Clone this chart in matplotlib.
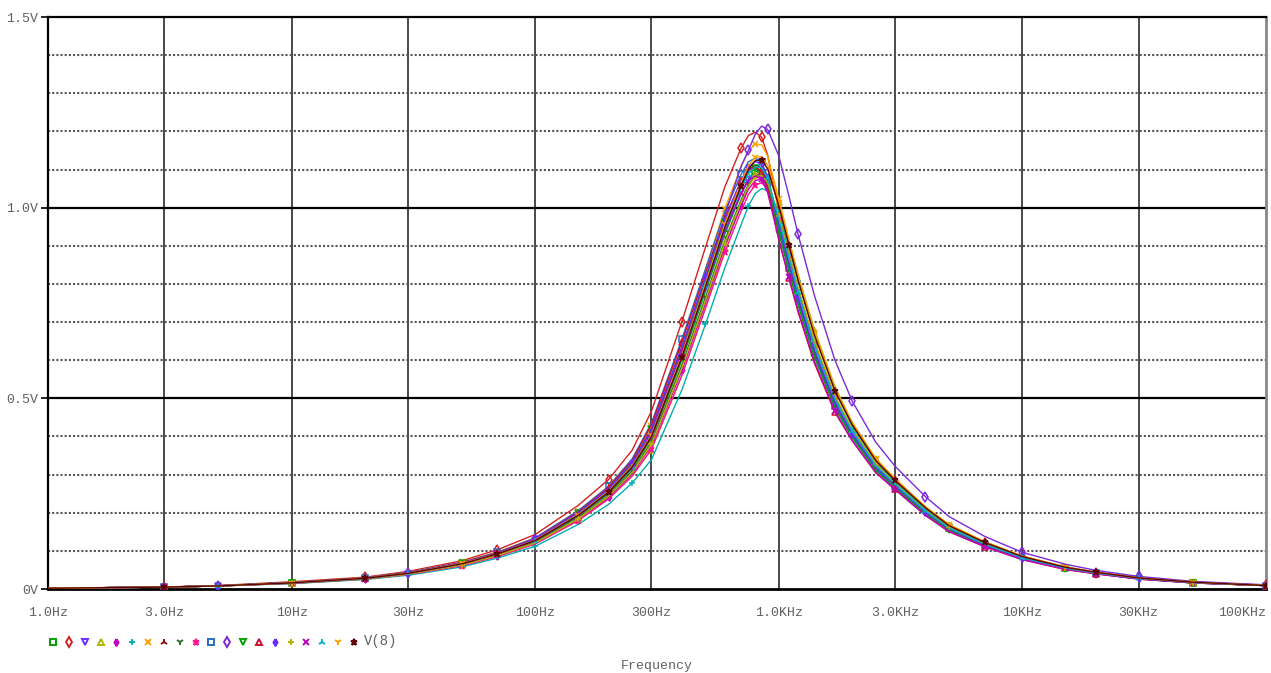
import matplotlib
matplotlib.use('Agg')
import matplotlib.pyplot as plt
from matplotlib.lines import Line2D
from matplotlib.path import Path

# AC sweep, 20 Monte Carlo runs of V(8)
freq = [1.0, 3, 5, 10, 20, 30, 50, 70, 100, 150, 200, 250, 300, 400, 500, 600, 700, 750,
        800, 850, 900, 1000, 1100, 1200, 1400, 1700, 2000, 2500, 3000, 4000, 5000, 7000,
        10000, 15000, 20000, 30000, 50000, 100000]

run01 = [0.002, 0.005, 0.008, 0.016, 0.027, 0.040, 0.065, 0.090, 0.125, 0.190, 0.250, 0.315, 0.395,
         0.600, 0.780, 0.930, 1.035, 1.075, 1.095, 1.095, 1.070, 0.970, 0.870, 0.780, 0.640, 0.500,
         0.415, 0.325, 0.275, 0.205, 0.160, 0.118, 0.082, 0.055, 0.042, 0.028, 0.017, 0.009]
run02 = [0.002, 0.005, 0.009, 0.019, 0.031, 0.046, 0.074, 0.103, 0.143, 0.219, 0.287, 0.364, 0.466,
         0.701, 0.896, 1.054, 1.156, 1.189, 1.198, 1.185, 1.138, 0.991, 0.882, 0.786, 0.641, 0.501,
         0.420, 0.330, 0.282, 0.209, 0.163, 0.120, 0.084, 0.056, 0.043, 0.028, 0.017, 0.010]
run03 = [0.002, 0.005, 0.008, 0.016, 0.027, 0.040, 0.066, 0.091, 0.126, 0.192, 0.253, 0.319, 0.403,
         0.610, 0.789, 0.936, 1.037, 1.073, 1.089, 1.085, 1.054, 0.943, 0.844, 0.755, 0.618, 0.483,
         0.403, 0.315, 0.268, 0.199, 0.155, 0.115, 0.080, 0.053, 0.041, 0.027, 0.016, 0.009]
run04 = [0.002, 0.005, 0.008, 0.015, 0.026, 0.038, 0.062, 0.086, 0.119, 0.180, 0.237, 0.297, 0.365,
         0.560, 0.740, 0.893, 1.007, 1.055, 1.085, 1.095, 1.085, 1.015, 0.916, 0.825, 0.680, 0.531,
         0.437, 0.342, 0.287, 0.215, 0.168, 0.124, 0.086, 0.058, 0.044, 0.030, 0.018, 0.009]
run05 = [0.002, 0.005, 0.008, 0.015, 0.026, 0.038, 0.063, 0.087, 0.120, 0.183, 0.240, 0.302, 0.376,
         0.573, 0.750, 0.899, 1.005, 1.048, 1.071, 1.075, 1.057, 0.970, 0.872, 0.784, 0.644, 0.503,
         0.416, 0.326, 0.275, 0.205, 0.160, 0.118, 0.082, 0.055, 0.042, 0.028, 0.017, 0.009]
run06 = [0.002, 0.005, 0.008, 0.014, 0.025, 0.036, 0.058, 0.081, 0.112, 0.169, 0.222, 0.278, 0.339,
         0.522, 0.694, 0.842, 0.955, 1.004, 1.037, 1.050, 1.046, 0.991, 0.896, 0.808, 0.667, 0.521,
         0.428, 0.335, 0.280, 0.210, 0.164, 0.121, 0.084, 0.057, 0.043, 0.029, 0.018, 0.009]
run07 = [0.002, 0.005, 0.009, 0.017, 0.029, 0.043, 0.070, 0.097, 0.134, 0.204, 0.269, 0.339, 0.427,
         0.647, 0.838, 0.997, 1.107, 1.148, 1.167, 1.165, 1.135, 1.023, 0.916, 0.820, 0.672, 0.525,
         0.437, 0.342, 0.290, 0.216, 0.169, 0.124, 0.086, 0.058, 0.044, 0.030, 0.018, 0.010]
run08 = [0.002, 0.005, 0.008, 0.017, 0.028, 0.042, 0.067, 0.093, 0.130, 0.198, 0.260, 0.329, 0.417,
         0.630, 0.811, 0.961, 1.061, 1.097, 1.111, 1.105, 1.071, 0.951, 0.850, 0.760, 0.622, 0.486,
         0.405, 0.318, 0.270, 0.201, 0.157, 0.115, 0.080, 0.054, 0.041, 0.027, 0.017, 0.009]
run09 = [0.002, 0.005, 0.008, 0.016, 0.027, 0.039, 0.064, 0.088, 0.123, 0.186, 0.245, 0.309, 0.386,
         0.587, 0.765, 0.914, 1.020, 1.061, 1.083, 1.085, 1.063, 0.970, 0.871, 0.782, 0.642, 0.502,
         0.416, 0.325, 0.275, 0.205, 0.160, 0.118, 0.082, 0.055, 0.042, 0.028, 0.017, 0.009]
run10 = [0.002, 0.005, 0.008, 0.015, 0.026, 0.038, 0.061, 0.085, 0.118, 0.179, 0.236, 0.296, 0.367,
         0.560, 0.736, 0.883, 0.991, 1.034, 1.060, 1.065, 1.050, 0.970, 0.873, 0.785, 0.646, 0.505,
         0.417, 0.326, 0.275, 0.205, 0.160, 0.118, 0.082, 0.055, 0.042, 0.028, 0.017, 0.009]
run11 = [0.002, 0.005, 0.008, 0.017, 0.029, 0.043, 0.070, 0.096, 0.134, 0.205, 0.269, 0.341, 0.435,
         0.655, 0.839, 0.989, 1.087, 1.120, 1.130, 1.120, 1.079, 0.946, 0.843, 0.752, 0.614, 0.480,
         0.402, 0.315, 0.269, 0.200, 0.156, 0.115, 0.080, 0.053, 0.041, 0.027, 0.016, 0.009]
run12 = [0.002, 0.005, 0.009, 0.016, 0.028, 0.042, 0.068, 0.094, 0.130, 0.197, 0.259, 0.325, 0.397,
         0.611, 0.810, 0.980, 1.108, 1.150, 1.192, 1.214, 1.205, 1.136, 1.031, 0.930, 0.770, 0.600,
         0.493, 0.385, 0.322, 0.242, 0.190, 0.138, 0.096, 0.065, 0.049, 0.033, 0.020, 0.011]
run13 = [0.002, 0.005, 0.008, 0.017, 0.028, 0.042, 0.067, 0.093, 0.130, 0.198, 0.260, 0.329, 0.419,
         0.632, 0.812, 0.960, 1.057, 1.091, 1.103, 1.095, 1.058, 0.934, 0.833, 0.744, 0.608, 0.475,
         0.397, 0.311, 0.265, 0.197, 0.154, 0.113, 0.079, 0.053, 0.040, 0.027, 0.016, 0.009]
run14 = [0.002, 0.005, 0.008, 0.017, 0.028, 0.042, 0.069, 0.095, 0.132, 0.202, 0.266, 0.337, 0.431,
         0.648, 0.828, 0.974, 1.069, 1.099, 1.107, 1.095, 1.052, 0.916, 0.815, 0.726, 0.592, 0.463,
         0.389, 0.305, 0.261, 0.193, 0.150, 0.111, 0.077, 0.051, 0.040, 0.026, 0.016, 0.009]
run15 = [0.002, 0.005, 0.008, 0.017, 0.028, 0.042, 0.068, 0.094, 0.131, 0.200, 0.262, 0.332, 0.420,
         0.635, 0.818, 0.969, 1.071, 1.107, 1.121, 1.115, 1.080, 0.960, 0.858, 0.767, 0.627, 0.490,
         0.409, 0.320, 0.273, 0.203, 0.158, 0.116, 0.081, 0.054, 0.042, 0.028, 0.017, 0.009]
run16 = [0.002, 0.005, 0.008, 0.016, 0.026, 0.039, 0.063, 0.088, 0.121, 0.184, 0.243, 0.305, 0.380,
         0.579, 0.757, 0.907, 1.015, 1.057, 1.081, 1.085, 1.066, 0.979, 0.880, 0.791, 0.650, 0.508,
         0.420, 0.329, 0.277, 0.207, 0.162, 0.119, 0.083, 0.056, 0.042, 0.028, 0.017, 0.009]
run17 = [0.002, 0.005, 0.008, 0.016, 0.027, 0.041, 0.066, 0.092, 0.127, 0.194, 0.256, 0.323, 0.411,
         0.621, 0.797, 0.942, 1.038, 1.071, 1.083, 1.075, 1.039, 0.917, 0.818, 0.731, 0.597, 0.467,
         0.390, 0.306, 0.261, 0.193, 0.151, 0.111, 0.077, 0.052, 0.040, 0.026, 0.016, 0.009]
run18 = [0.002, 0.005, 0.008, 0.016, 0.027, 0.041, 0.066, 0.092, 0.127, 0.194, 0.255, 0.321, 0.405,
         0.613, 0.795, 0.946, 1.050, 1.089, 1.107, 1.105, 1.077, 0.970, 0.869, 0.778, 0.638, 0.498,
         0.414, 0.324, 0.275, 0.205, 0.160, 0.118, 0.082, 0.055, 0.042, 0.028, 0.017, 0.009]
run19 = [0.002, 0.005, 0.008, 0.016, 0.028, 0.041, 0.067, 0.092, 0.128, 0.195, 0.256, 0.323, 0.403,
         0.613, 0.800, 0.956, 1.066, 1.110, 1.132, 1.134, 1.112, 1.014, 0.911, 0.817, 0.671, 0.524,
         0.435, 0.340, 0.287, 0.214, 0.167, 0.123, 0.086, 0.058, 0.044, 0.029, 0.018, 0.009]
run20 = [0.002, 0.005, 0.008, 0.016, 0.028, 0.041, 0.066, 0.092, 0.127, 0.193, 0.254, 0.320, 0.400,
         0.608, 0.793, 0.948, 1.057, 1.100, 1.123, 1.125, 1.102, 1.005, 0.903, 0.810, 0.666, 0.520,
         0.431, 0.337, 0.285, 0.213, 0.166, 0.122, 0.085, 0.057, 0.044, 0.029, 0.018, 0.009]

runs = [run01, run02, run03, run04, run05, run06, run07, run08, run09, run10,
        run11, run12, run13, run14, run15, run16, run17, run18, run19, run20]
colors = ['#00a000', '#d42020', '#6a2cff', '#b4b400', '#c000c0', '#00b0b0', '#ffa000',
          '#8b1010', '#2f6b2f', '#ff1493', '#2a6cc0', '#7a2ad8', '#00a000', '#c8102e',
          '#6a2cff', '#b4b400', '#c000c0', '#00b4c8', '#ffa000', '#600000']

# diamond with a cross inside, the PSpice symbol for traces 5 and 15
dia_plus = Path([(0, 1), (0.6, 0), (0, -1), (-0.6, 0), (0, 1), (0, 1), (0, -1), (-0.6, 0), (0.6, 0)],
                [Path.MOVETO, Path.LINETO, Path.LINETO, Path.LINETO, Path.LINETO,
                 Path.MOVETO, Path.LINETO, Path.MOVETO, Path.LINETO])
markers = ['s', 'd', 'v', '^', dia_plus, '+', 'x', '2', '1', '*',
           's', 'd', 'v', '^', dia_plus, '+', 'x', '2', '1', '*']

xticks = [1, 3, 10, 30, 100, 300, 1000, 3000, 10000, 30000, 100000]
xlabels = ['1.0Hz', '3.0Hz', '10Hz', '30Hz', '100Hz', '300Hz', '1.0KHz', '3.0KHz',
           '10KHz', '30KHz', '100KHz']
yticks = [0, 0.5, 1.0, 1.5]
ylabels = ['0V', '0.5V', '1.0V', '1.5V']

mono = 'Liberation Mono'
txt_color = '#606060'
W, H = 1271, 673


def is_hollow(m):
    return not isinstance(m, str) or m in ('s', 'd', 'v', '^')


fig = plt.figure(figsize=(W / 100, H / 100), dpi=100)
fig.patch.set_facecolor('white')
ax = fig.add_axes([48 / W, 1 - 589 / H, 1218 / W, 572 / H])

# grid
for f in xticks[1:-1]:
    ax.axvline(f, color='#3c3c3c', lw=1.3, zorder=1)
for k in range(1, 15):
    v = k / 10
    if k % 5 == 0:
        ax.axhline(v, color='black', lw=1.6, zorder=1)
    else:
        ax.axhline(v, color='#555555', lw=1.5, ls=(0, (1, 1)), zorder=1)

n = len(freq)
for i, (vals, c, m) in enumerate(zip(runs, colors, markers)):
    every = [j for j in range(1, n) if j % 3 == i % 3]
    ax.plot(freq, vals, color=c, lw=1.0, zorder=3, marker=m, markersize=5,
            markeredgewidth=1.1, markeredgecolor=c,
            markerfacecolor='none' if is_hollow(m) else c, markevery=every)

ax.set_xscale('log')
ax.set_xlim(1, 100000)
ax.set_ylim(0, 1.5)
ax.set_xticks(xticks)
ax.set_xticklabels(xlabels)
ax.minorticks_off()
ax.set_yticks(yticks)
ax.set_yticklabels(ylabels)
ax.tick_params(axis='x', length=0, pad=13, labelsize=9.5, labelcolor=txt_color)
ax.tick_params(axis='y', length=5, width=1.2, pad=2, labelsize=9.5, labelcolor=txt_color)
for lab in ax.get_xticklabels() + ax.get_yticklabels():
    lab.set_family(mono)
ax.get_xticklabels()[-1].set_horizontalalignment('right')

for side in ['top', 'left']:
    ax.spines[side].set_color('black')
    ax.spines[side].set_linewidth(1.6)
ax.spines['bottom'].set_color('black')
ax.spines['bottom'].set_linewidth(2.0)
ax.spines['right'].set_color('#888888')
ax.spines['right'].set_linewidth(2.0)

# PSpice style trace legend below the axis
ly = 1 - 641.5 / H
for i, (c, m) in enumerate(zip(colors, markers)):
    lx = (53 + 15.84 * i) / W
    fig.add_artist(Line2D([lx], [ly], transform=fig.transFigure, marker=m, markersize=5,
                          markeredgewidth=1.4, markeredgecolor=c, linestyle='none',
                          markerfacecolor='none' if is_hollow(m) else c))
fig.text(364 / W, ly, 'V(8)', family=mono, fontsize=10, color=txt_color, va='center', ha='left')
fig.text(657 / W, 1 - 666 / H, 'Frequency', family=mono, fontsize=9.5, color=txt_color,
         va='center', ha='center')

fig.savefig('out.png', dpi=100, facecolor='white')
